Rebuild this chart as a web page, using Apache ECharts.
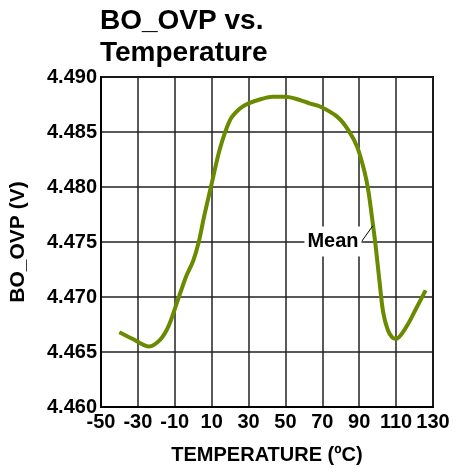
<!DOCTYPE html>
<html>
<head>
<meta charset="utf-8">
<script src="https://cdn.jsdelivr.net/npm/echarts@6/dist/echarts.min.js"></script>
<style>
html,body{margin:0;padding:0;background:#fff;}
#chart{width:457px;height:472px;}
</style>
</head>
<body>
<div id="chart"></div>
<script>
// Temperature (°C) and mean BO_OVP (V)
const temperature = [-40, -33, -24, -18, -13.5, -9, -4, 0, 3, 6, 10, 14.5, 20, 25, 30, 37, 43, 50, 58, 63, 69, 78, 84, 89, 93, 95, 97.5, 99, 101, 103, 105.5, 108, 110, 115.6, 121, 126];
const boOvpMean   = [4.4668, 4.4662, 4.4655, 4.4661, 4.4673, 4.4694, 4.4718, 4.4733, 4.4750, 4.4774, 4.4803, 4.4835, 4.4861, 4.4871, 4.4876, 4.4880, 4.4882, 4.4882, 4.4879, 4.4876, 4.4873, 4.4864, 4.4852, 4.4836, 4.4813, 4.4796, 4.4765, 4.4745, 4.4714, 4.4686, 4.4670, 4.4663, 4.4662, 4.4673, 4.4690, 4.4706];
const meanLabelIndex = 26;
const xMin = -50, xMax = 130, xStep = 20;
const yMin = 4.460, yMax = 4.490, yStep = 0.005;

const chart = echarts.init(document.getElementById('chart'), null, {renderer: 'canvas'});
const font = 'Liberation Sans, Arial, Helvetica, sans-serif';
const seriesData = temperature.map((t, i) => {
  const item = {value: [t, boOvpMean[i]]};
  if (i === meanLabelIndex) {
    item.label = {
      show: true, formatter: 'Mean', position: 'left', distance: 2,
      fontFamily: font, fontSize: 20, fontWeight: 'bold',
      color: '#000', backgroundColor: '#fff', padding: [5, 3]
    };
    item.labelLine = {show: true, lineStyle: {color: '#000', width: 1}};
  }
  return item;
});

chart.setOption({
  animation: false,
  backgroundColor: '#fff',
  title: {
    text: 'BO_OVP vs.\nTemperature',
    left: 100, top: 5, padding: 0,
    textStyle: {fontFamily: font, fontSize: 28, fontWeight: 'bold', color: '#000', lineHeight: 32}
  },
  grid: {left: 101, top: 77, right: 24, bottom: 65, show: true, borderColor: '#000', borderWidth: 2, backgroundColor: 'transparent'},
  xAxis: {
    type: 'value', min: xMin, max: xMax, interval: xStep,
    name: 'TEMPERATURE (ºC)', nameLocation: 'middle', nameGap: 38,
    nameTextStyle: {fontFamily: font, fontSize: 20, fontWeight: 'bold', color: '#000'},
    axisLine: {show: true, onZero: false, lineStyle: {color: '#000', width: 2}},
    axisTick: {show: false},
    axisLabel: {fontFamily: font, fontSize: 20, fontWeight: 'bold', color: '#000', margin: 5, showMinLabel: true, showMaxLabel: true},
    splitLine: {show: true, lineStyle: {color: '#222', width: 1.5}}
  },
  yAxis: {
    type: 'value', min: yMin, max: yMax, interval: yStep,
    name: 'BO_OVP (V)', nameLocation: 'middle', nameGap: 72,
    nameTextStyle: {fontFamily: font, fontSize: 21, fontWeight: 'bold', color: '#000'},
    axisLine: {show: true, onZero: false, lineStyle: {color: '#000', width: 2}},
    axisTick: {show: false},
    axisLabel: {fontFamily: font, fontSize: 20, fontWeight: 'bold', color: '#000', margin: 4, formatter: v => v.toFixed(3)},
    splitLine: {show: true, lineStyle: {color: '#222', width: 1.5}}
  },
  series: [{
    type: 'line',
    data: seriesData,
    smooth: 0.3,
    showSymbol: true,
    symbol: 'circle', symbolSize: 1,
    itemStyle: {color: '#6a8a00'},
    lineStyle: {color: '#6a8a00', width: 4},
    labelLayout: {dx: -9, dy: 16},
    emphasis: {disabled: true},
    silent: true
  }]
});
</script>
</body>
</html>
